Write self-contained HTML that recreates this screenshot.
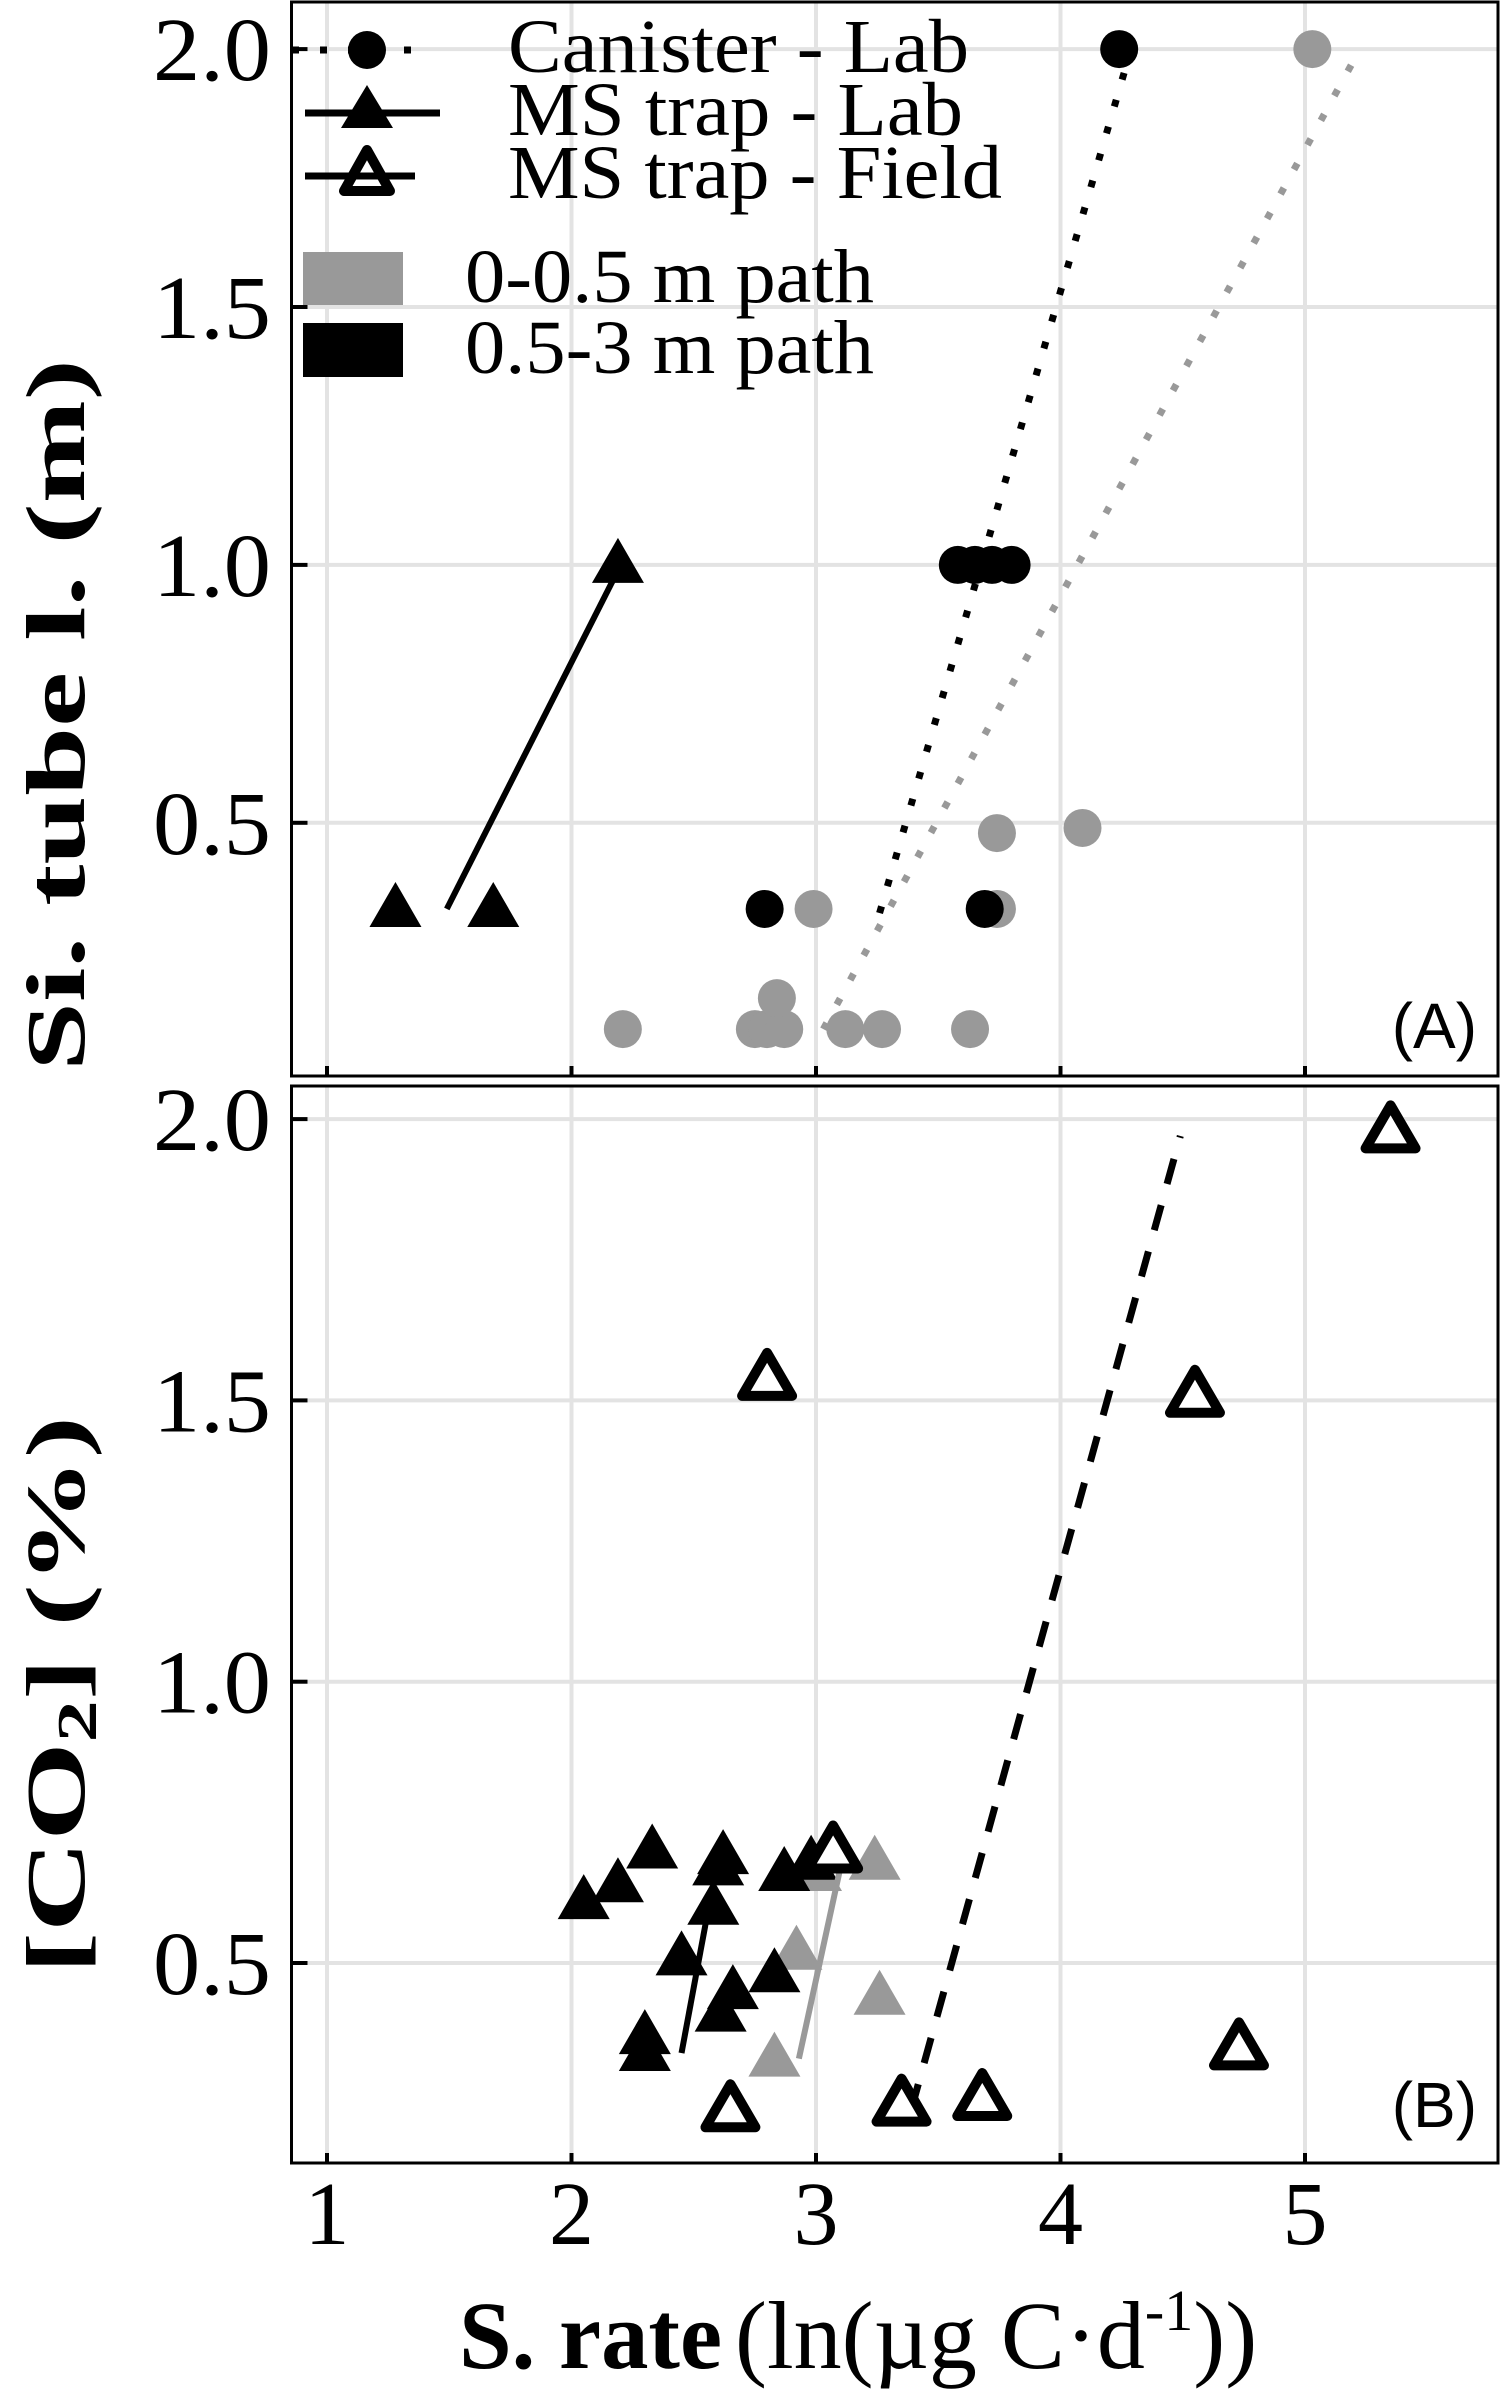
<!DOCTYPE html>
<html><head><meta charset="utf-8"><style>
html,body{margin:0;padding:0;background:#fff}
svg{display:block}
text{font-family:"Liberation Serif",serif}
</style></head><body>
<svg id="chart" width="1500" height="2402" viewBox="0 0 1500 2402" xmlns="http://www.w3.org/2000/svg">
<g id="grid"></g>
<g id="marks"></g>
<g id="frame"></g>
</svg>
<script>
// X axis
const xTicks=[1,2,3,4,5];
const xTickLabels=["1","2","3","4","5"];
const yTicks=[0.5,1.0,1.5,2.0];
const yTickLabels=["0.5","1.0","1.5","2.0"];
// Panel A data
const aCanBlackX=[4.24,3.58,3.65,3.72,3.80,2.79,3.69];
const aCanBlackY=[2.0,1.0,1.0,1.0,1.0,0.333,0.333];
const aCanGreyX=[5.03,3.74,4.09,2.99,3.74,2.21,2.75,2.80,2.87,3.12,3.27,3.63,2.84];
const aCanGreyY=[2.0,0.48,0.49,0.333,0.333,0.1,0.1,0.1,0.1,0.1,0.1,0.1,0.16];
const aTriBlackX=[2.19,1.28,1.68];
const aTriBlackY=[1.0,0.333,0.333];
const aLineMsX=[1.49,2.18];const aLineMsY=[0.333,0.98];
const aLineCanBlackX=[3.26,4.27];const aLineCanBlackY=[0.325,1.97];
const aLineCanGreyX=[3.03,5.19];const aLineCanGreyY=[0.10,1.97];
// Panel B data
const bTriBlackX=[2.05,2.19,2.33,2.60,2.62,2.58,2.45,2.61,2.66,2.83,2.30,2.30,2.87,2.98];
const bTriBlackY=[0.61,0.64,0.70,0.67,0.69,0.60,0.51,0.41,0.45,0.48,0.37,0.34,0.66,0.68];
const bTriGreyX=[3.00,2.92,3.26,2.83,3.24];
const bTriGreyY=[0.66,0.52,0.44,0.33,0.68];
const bTriOpenX=[5.35,2.80,4.55,4.73,3.07,2.65,3.35,3.68];
const bTriOpenY=[1.98,1.54,1.51,0.35,0.70,0.24,0.25,0.26];
const bLineBlackX=[2.45,2.57];const bLineBlackY=[0.34,0.62];
const bLineGreyX=[2.93,3.10];const bLineGreyY=[0.33,0.67];
const bLineFieldX=[3.39,4.49];const bLineFieldY=[0.24,1.97];

const NS="http://www.w3.org/2000/svg";
const L=291.5,R=1498;
const X=v=>327+(v-1)*244.5;
const YA=v=>822.8-(v-0.5)*515.8;
const YB=v=>1963-(v-0.5)*562.6;
const panels=[{t:2,b:1076,Y:YA},{t:1086,b:2163,Y:YB}];
function el(tag,attrs,parent){const e=document.createElementNS(NS,tag);for(const k in attrs)e.setAttribute(k,attrs[k]);parent.appendChild(e);return e;}
const grid=document.getElementById('grid'),marks=document.getElementById('marks'),frame=document.getElementById('frame');
panels.forEach((p,pi)=>{
  xTicks.forEach(v=>{const g=el('line',{x1:X(v),x2:X(v),y1:p.t,y2:p.b,stroke:'#e3e3e3','stroke-width':4},grid);
    
    const t=el('line',{x1:X(v),x2:X(v),y1:p.b,y2:p.b-10,stroke:'#000','stroke-width':4},frame);
    });
  yTicks.forEach((v,i)=>{const g=el('line',{x1:L,x2:R,y1:p.Y(v),y2:p.Y(v),stroke:'#e3e3e3','stroke-width':4},grid);
    
    const t=el('line',{x1:L,x2:L+16,y1:p.Y(v),y2:p.Y(v),stroke:'#000','stroke-width':4},frame);
    
    const tx=el('text',{x:271,y:p.Y(v)+31,'text-anchor':'end','font-size':90,fill:'#000',textLength:118,lengthAdjust:'spacingAndGlyphs'},frame);
    tx.textContent=yTickLabels[i];
    });
  const r=el('rect',{x:L,y:p.t,width:R-L,height:p.b-p.t,fill:'none',stroke:'#000','stroke-width':3},frame);
  
});
xTicks.forEach((v,i)=>{const t=el('text',{x:X(v),y:2244,'text-anchor':'middle','font-size':90},frame);t.textContent=xTickLabels[i];
  });

function line(xs,ys,Y,col,w,dash,name){const l=el('line',{x1:X(xs[0]),y1:Y(ys[0]),x2:X(xs[1]),y2:Y(ys[1]),stroke:col,'stroke-width':w},marks);
  if(dash)l.setAttribute('stroke-dasharray',dash);
  }
function circ(xs,ys,Y,col,name){xs.forEach((x,i)=>{const c=el('circle',{cx:X(x),cy:Y(ys[i]),r:19,fill:col},marks);
  });}
function tri(xs,ys,Y,col,open,name){xs.forEach((x,i)=>{const cx=X(x),cy=Y(ys[i]);
  const t=el('polygon',{points:`${cx},${cy-27} ${cx-26},${cy+18} ${cx+26},${cy+18}`,fill:open?'#fff':col},marks);
  if(open){t.setAttribute('stroke','#000');t.setAttribute('stroke-width',10);t.setAttribute('stroke-linejoin','round');
    t.setAttribute('points',`${cx},${cy-25} ${cx-25},${cy+18} ${cx+25},${cy+18}`);}
  });}

// Panel A
line(aLineCanGreyX,aLineCanGreyY,YA,'#999',7,'7 21','trend-canister-grey');
line(aLineCanBlackX,aLineCanBlackY,YA,'#000',7,'7 21','trend-canister-black');
line(aLineMsX,aLineMsY,YA,'#000',6,null,'trend-ms-lab');
circ(aCanGreyX,aCanGreyY,YA,'#999','point-canister-grey');
circ(aCanBlackX,aCanBlackY,YA,'#000','point-canister-black');
tri(aTriBlackX,aTriBlackY,YA,'#000',false,'point-ms-lab-black');
// Panel B
tri(bTriGreyX,bTriGreyY,YB,'#999',false,'point-ms-lab-grey');
tri(bTriBlackX,bTriBlackY,YB,'#000',false,'point-ms-lab-black');
line(bLineBlackX,bLineBlackY,YB,'#000',6,null,'trend-ms-lab-black');
line(bLineGreyX,bLineGreyY,YB,'#999',6,null,'trend-ms-lab-grey');
line(bLineFieldX,bLineFieldY,YB,'#000',7,'26 22','trend-ms-field');
tri(bTriOpenX,bTriOpenY,YB,'#000',true,'point-ms-field');
</script>
<svg width="1500" height="2402" viewBox="0 0 1500 2402" style="position:absolute;left:0;top:0">
<g>
 <line x1="292" y1="50" x2="420" y2="50" stroke="#000" stroke-width="7" stroke-dasharray="7 21"/>
 <circle cx="367" cy="50" r="19" fill="#000"/>
 <line x1="305" y1="113" x2="440" y2="113" stroke="#000" stroke-width="7"/>
 <polygon points="367,85 341,128 393,128" fill="#000"/>
 <line x1="305" y1="176" x2="415" y2="176" stroke="#000" stroke-width="7"/>
 <polygon points="367,150 344,191 390,191" fill="none" stroke="#000" stroke-width="10" stroke-linejoin="round"/>
 <text x="508" y="72" font-size="76" textLength="461" lengthAdjust="spacingAndGlyphs">Canister - Lab</text>
 <text x="508" y="135" font-size="76" textLength="455" lengthAdjust="spacingAndGlyphs">MS trap - Lab</text>
 <text x="508" y="198" font-size="76" textLength="494" lengthAdjust="spacingAndGlyphs">MS trap - Field</text>
 <rect x="303" y="252" width="100" height="53" fill="#999"/>
 <rect x="303" y="323" width="100" height="54" fill="#000"/>
 <text x="465" y="302" font-size="76" textLength="409" lengthAdjust="spacingAndGlyphs">0-0.5 m path</text>
 <text x="465" y="373" font-size="76" textLength="409" lengthAdjust="spacingAndGlyphs">0.5-3 m path</text>
</g>
<text x="1477" y="1048" text-anchor="end" font-size="64" style="font-family:'Liberation Sans',sans-serif">(A)</text>
<text x="1477" y="2127" text-anchor="end" font-size="64" style="font-family:'Liberation Sans',sans-serif">(B)</text>
<text transform="translate(84,715) rotate(-90)" text-anchor="middle" font-size="84" font-weight="bold" textLength="712" lengthAdjust="spacingAndGlyphs">Si. tube l. (m)</text>
<text transform="translate(84,1695) rotate(-90)" text-anchor="middle" font-size="84" font-weight="bold" textLength="558" lengthAdjust="spacingAndGlyphs">[CO<tspan font-size="56" dy="12">2</tspan><tspan dy="-12">] (%)</tspan></text>
<text x="459" y="2368" font-size="96" font-weight="bold" textLength="263" lengthAdjust="spacingAndGlyphs">S. rate</text>
<text x="735" y="2368" font-size="96">(ln(µg C·d<tspan font-size="58" dy="-38">-1</tspan><tspan dy="38">))</tspan></text>
</svg>
</body></html>
